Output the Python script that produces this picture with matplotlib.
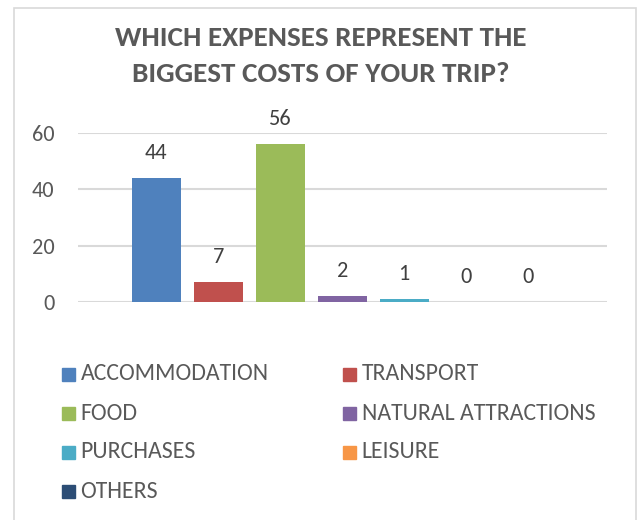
import numpy as np
import matplotlib.pyplot as plt
from matplotlib.patches import Rectangle

# Survey answers: which expenses were the biggest costs of the trip
categories = ['ACCOMMODATION', 'TRANSPORT', 'FOOD', 'NATURAL ATTRACTIONS',
              'PURCHASES', 'LEISURE', 'OTHERS']
counts = [44, 7, 56, 2, 1, 0, 0]
colors = ['#4F81BD', '#C0504D', '#9BBB59', '#8064A2', '#4BACC6', '#F79646', '#2C4D75']
yticks = [0, 20, 40, 60]

plt.rcParams['font.family'] = ['Carlito', 'DejaVu Sans']
text_grey = '#595959'

W, H = 638, 520
fig = plt.figure(figsize=(W / 100, H / 100), dpi=100)

# chart frame
fig.add_artist(Rectangle((14 / W, -0.05), 622 / W, 1.05 - 7.5 / H,
                         transform=fig.transFigure, fill=False,
                         edgecolor='#D9D9D9', lw=1.2))

fig.text(321 / W, 1 - 46.5 / H, 'WHICH EXPENSES REPRESENT THE', ha='center', va='baseline',
         fontsize=21, fontweight='bold', color=text_grey)
fig.text(321 / W, 1 - 82.5 / H, 'BIGGEST COSTS OF YOUR TRIP?', ha='center', va='baseline',
         fontsize=21, fontweight='bold', color=text_grey)

ax = fig.add_axes([78 / W, 218 / H, 529 / W, 169 / H])
x = np.arange(len(categories))
bars = ax.bar(x, counts, width=0.79, color=colors, zorder=3)
for xi, v in zip(x, counts):
    ax.annotate(str(v), (xi, v), xytext=(0, 18), textcoords='offset points',
                ha='center', va='center', fontsize=16, color='#404040')

ax.set_xlim(-1.26, 7.27)
ax.set_ylim(0, 60)
ax.set_yticks(yticks)
ax.set_xticks([])
ax.tick_params(axis='y', length=0, pad=17, labelsize=16, labelcolor=text_grey)
ax.grid(axis='y', color='#D9D9D9', lw=1.5, zorder=0)
for s in ax.spines.values():
    s.set_visible(False)

# legend laid out in two columns, row by row
for i, (name, c) in enumerate(zip(categories, colors)):
    col, row = i % 2, i // 2
    lx = 61.5 + col * 281
    base = 380.5 + row * 39
    fig.add_artist(Rectangle((lx / W, 1 - base / H), 13 / W, 13 / H,
                             transform=fig.transFigure, color=c))
    fig.text((lx + 19) / W, 1 - base / H, name, ha='left', va='baseline',
             fontsize=17.1, color=text_grey)

fig.savefig('out.png', dpi=100)
